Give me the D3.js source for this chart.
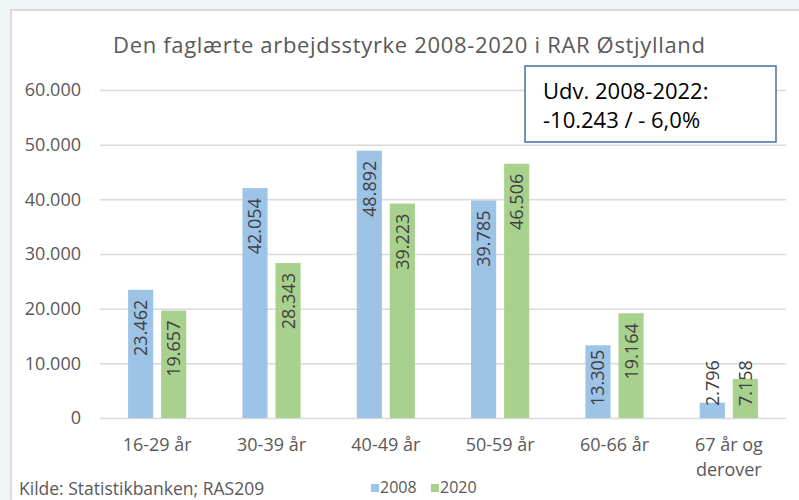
<!DOCTYPE html>
<html>
<head>
<meta charset="utf-8">
<script src="https://cdn.jsdelivr.net/npm/d3@7"></script>
<style>
  body { margin: 0; background: #eef5f6; }
  svg { display: block; font-family: "Open Sans", sans-serif; }
</style>
</head>
<body>
<div id="chart"></div>
<script>
// Data
const categories = ["16-29 år", "30-39 år", "40-49 år", "50-59 år", "60-66 år", "67 år og\nderover"];
const seriesNames = ["2008", "2020"];
const values2008 = [23462, 42054, 48892, 39785, 13305, 2796];
const values2020 = [19657, 28343, 39223, 46506, 19164, 7158];
const yTicks = [0, 10000, 20000, 30000, 40000, 50000, 60000];
const seriesColors = ["#9dc3e6", "#a9d18e"];

const width = 799;
const height = 500;
const margin = {top: 90, right: 13, bottom: 82, left: 100};

// Danish number format: 42.054
const daLocale = d3.formatLocale({decimal: ",", thousands: ".", grouping: [3], currency: ["", " kr."]});
const fmt = daLocale.format(",d");

const rows = categories.map((c, i) => ({category: c, values: [values2008[i], values2020[i]]}));

const svg = d3.select("#chart").append("svg")
    .attr("width", width)
    .attr("height", height);

// white chart area with thin grey frame
svg.append("rect")
    .attr("x", 11)
    .attr("y", 10)
    .attr("width", width + 20)
    .attr("height", height + 20)
    .attr("fill", "white")
    .attr("stroke", "#d9d9d9")
    .attr("stroke-width", 2);

const x0 = d3.scaleBand()
    .domain(categories)
    .range([margin.left, width - margin.right])
    .padding(0);

const x1 = d3.scaleBand()
    .domain(seriesNames)
    .range([0, x0.bandwidth()])
    .paddingInner(0.24)
    .paddingOuter(0.85);

const y = d3.scaleLinear()
    .domain([0, 60000])
    .range([height - margin.bottom, margin.top]);

// y axis + gridlines
const yAxis = svg.append("g")
    .attr("transform", `translate(${margin.left},0)`)
    .call(d3.axisLeft(y)
        .tickValues(yTicks)
        .tickSize(-(width - margin.left - margin.right))
        .tickPadding(19)
        .tickFormat(fmt));
yAxis.select(".domain").remove();
yAxis.selectAll(".tick line").attr("stroke", "#d9d9d9").attr("stroke-width", 1.5);
yAxis.selectAll(".tick text")
    .attr("fill", "#595959")
    .style("font-size", "18px")
    .style("font-family", "'Open Sans', sans-serif");

// bars
const groups = svg.append("g")
    .selectAll("g")
    .data(rows)
    .join("g")
    .attr("transform", d => `translate(${x0(d.category)},0)`);

groups.selectAll("rect")
    .data(d => d.values.map((v, i) => ({series: seriesNames[i], value: v, color: seriesColors[i]})))
    .join("rect")
    .attr("x", d => x1(d.series))
    .attr("y", d => y(d.value))
    .attr("width", x1.bandwidth())
    .attr("height", d => y(0) - y(d.value))
    .attr("fill", d => d.color);

// rotated value labels, inside end; pushed up if the bar is too short
groups.selectAll("text.val")
    .data(d => d.values.map((v, i) => ({series: seriesNames[i], value: v})))
    .join("text")
    .attr("class", "val")
    .attr("fill", "#404040")
    .style("font-size", "18px")
    .attr("text-anchor", "start")
    .attr("dy", "0.36em")
    .text(d => fmt(d.value))
    .each(function (d) {
        const len = this.getComputedTextLength();
        const top = Math.min(y(d.value) + 10, y(0) - 12 - len);
        const cx = x1(d.series) + x1.bandwidth() / 2;
        d3.select(this).attr("transform", `translate(${cx},${top + len}) rotate(-90)`);
    });

// category labels
const xLabels = svg.append("g")
    .selectAll("text")
    .data(categories)
    .join("text")
    .attr("x", d => x0(d) + x0.bandwidth() / 2)
    .attr("y", y(0) + 33)
    .attr("text-anchor", "middle")
    .attr("fill", "#595959")
    .style("font-size", "18px");
xLabels.selectAll("tspan")
    .data(d => d.split("\n"))
    .join("tspan")
    .attr("x", function () { return d3.select(this.parentNode).attr("x"); })
    .attr("dy", (d, i) => i === 0 ? 0 : 25)
    .text(d => d);

// title
svg.append("text")
    .attr("x", 409)
    .attr("y", 53)
    .attr("text-anchor", "middle")
    .attr("fill", "#595959")
    .attr("textLength", 592)
    .attr("lengthAdjust", "spacing")
    .style("font-size", "22px")
    .text("Den faglærte arbejdsstyrke 2008-2020 i RAR Østjylland");

// annotation box
svg.append("rect")
    .attr("x", 525)
    .attr("y", 66)
    .attr("width", 251)
    .attr("height", 76)
    .attr("fill", "white")
    .attr("stroke", "#41719c")
    .attr("stroke-width", 1.5);
svg.append("text")
    .attr("x", 543)
    .attr("y", 99)
    .attr("fill", "#000")
    .style("font-size", "22px")
    .text("Udv. 2008-2022:");
svg.append("text")
    .attr("x", 543)
    .attr("y", 128)
    .attr("fill", "#000")
    .style("font-size", "22px")
    .text("-10.243 / - 6,0%");

// legend
const legend = svg.append("g")
    .selectAll("g")
    .data(seriesNames)
    .join("g")
    .attr("transform", (d, i) => `translate(${371 + i * 60},0)`);
legend.append("rect")
    .attr("y", 484)
    .attr("width", 8)
    .attr("height", 8)
    .attr("fill", (d, i) => seriesColors[i]);
legend.append("text")
    .attr("x", 9)
    .attr("y", 493)
    .attr("fill", "#595959")
    .style("font-size", "16px")
    .text(d => d);

// source
svg.append("text")
    .attr("x", 19)
    .attr("y", 495)
    .attr("fill", "#595959")
    .style("font-size", "17.5px")
    .text("Kilde: Statistikbanken; RAS209");
</script>
</body>
</html>
